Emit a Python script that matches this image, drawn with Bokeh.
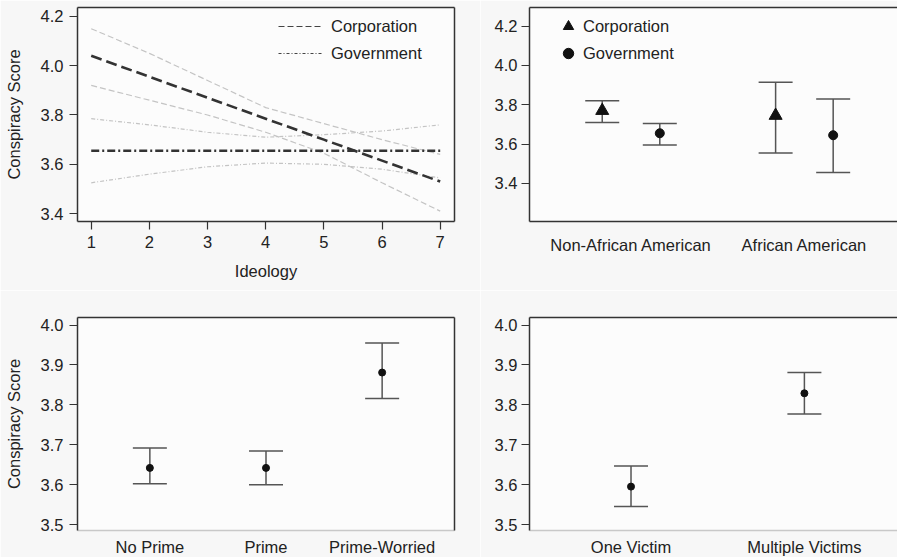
from bokeh.plotting import figure
from bokeh.models import (Range1d, FixedTicker, PrintfTickFormatter, LinearAxis,
                          Whisker, TeeHead, ColumnDataSource, Legend, LegendItem)
from bokeh.layouts import column, row
from bokeh.transform import dodge
from bokeh.embed import file_html
from bokeh.resources import INLINE

# ---------------- data ----------------
ideology = [1, 2, 3, 4, 5, 6, 7]
corp_mean = [4.04, 3.955, 3.87, 3.785, 3.70, 3.615, 3.53]
corp_upper = [4.15, 4.05, 3.94, 3.83, 3.765, 3.70, 3.64]
corp_lower = [3.92, 3.86, 3.80, 3.73, 3.645, 3.525, 3.41]
gov_mean = [3.655, 3.655, 3.655, 3.655, 3.655, 3.655, 3.655]
gov_upper = [3.785, 3.76, 3.73, 3.71, 3.72, 3.735, 3.76]
gov_lower = [3.525, 3.56, 3.59, 3.605, 3.60, 3.58, 3.545]
ideology_ticks = [1, 2, 3, 4, 5, 6, 7]
score_ticks_top = [3.4, 3.6, 3.8, 4.0, 4.2]

race_groups = ["Non-African American", "African American"]
race_corp = [3.77, 3.745]
race_corp_lo = [3.71, 3.555]
race_corp_hi = [3.82, 3.915]
race_gov = [3.655, 3.645]
race_gov_lo = [3.595, 3.455]
race_gov_hi = [3.705, 3.83]

prime_groups = ["No Prime", "Prime", "Prime-Worried"]
prime_est = [3.642, 3.642, 3.881]
prime_lo = [3.602, 3.600, 3.816]
prime_hi = [3.692, 3.684, 3.955]

victim_groups = ["One Victim", "Multiple Victims"]
victim_est = [3.595, 3.829]
victim_lo = [3.545, 3.777]
victim_hi = [3.647, 3.881]

score_ticks_bottom = [3.5, 3.6, 3.7, 3.8, 3.9, 4.0]

# ---------------- style ----------------
FONT = "Liberation Sans"
TXT = "#222222"
AX = "#333333"
ERR = "#555555"
BG_OUT = "#f7f7f7"
BG_IN = "#fcfcfc"
FS = "16.5px"
NAN = float("nan")


def base_fig(xr, yr, fw, fh, mbl, mbr, mbt, mbb):
    p = figure(frame_width=fw, frame_height=fh, x_range=xr, y_range=yr,
               output_backend="svg", toolbar_location=None,
               min_border_left=mbl, min_border_right=mbr,
               min_border_top=mbt, min_border_bottom=mbb,
               background_fill_color=BG_IN, border_fill_color=BG_OUT,
               outline_line_color=None)
    p.xgrid.visible = False
    p.ygrid.visible = False
    return p


def style_axis(ax, ticks, tick_out, standoff, line_color=AX):
    ax.ticker = FixedTicker(ticks=ticks)
    ax.major_tick_out = tick_out
    ax.major_tick_in = 0
    ax.minor_tick_out = 0
    ax.minor_tick_in = 0
    ax.major_tick_line_color = AX
    ax.major_tick_line_width = 1.2
    ax.axis_line_color = line_color
    ax.axis_line_width = 1.5
    ax.major_label_text_font = FONT
    ax.major_label_text_font_size = FS
    ax.major_label_text_color = TXT
    ax.major_label_standoff = standoff
    ax.axis_label_text_font = FONT
    ax.axis_label_text_font_size = FS
    ax.axis_label_text_font_style = "normal"
    ax.axis_label_text_color = TXT


def border(p, side, color=AX):
    ax = LinearAxis(ticker=FixedTicker(ticks=[]), axis_line_color=color,
                    axis_line_width=1.5, major_tick_out=0, major_tick_in=0,
                    minor_tick_out=0, minor_tick_in=0, major_label_standoff=0,
                    major_label_text_font_size="0px")
    p.add_layout(ax, side)


def add_errs(p, src, base, lo, hi):
    w = Whisker(source=src, base=base, lower=lo, upper=hi, dimension="height",
                line_color=ERR, line_width=1.5, level="underlay",
                upper_head=TeeHead(size=34, line_color=ERR, line_width=1.5),
                lower_head=TeeHead(size=34, line_color=ERR, line_width=1.5))
    p.add_layout(w)


# ---------------- top-left: ideology ----------------
tl = base_fig(Range1d(0.764, 7.246), Range1d(3.368, 4.236), 377, 214, 77, 26, 7, 69)
src_tl = ColumnDataSource(dict(x=ideology, cm=corp_mean, cu=corp_upper, cl=corp_lower,
                               gm=gov_mean, gu=gov_upper, gl=gov_lower))
BAND = "#c4c4c4"
tl.line("x", "cu", source=src_tl, line_color=BAND, line_width=1.2, line_dash="6 3")
tl.line("x", "cl", source=src_tl, line_color=BAND, line_width=1.2, line_dash="6 3")
tl.line("x", "gu", source=src_tl, line_color=BAND, line_width=1.2, line_dash="4 2 1 2")
tl.line("x", "gl", source=src_tl, line_color=BAND, line_width=1.2, line_dash="4 2 1 2")
tl.line("x", "gm", source=src_tl, line_color="#333333", line_width=2.6, line_dash="8 3 2 3")
tl.line("x", "cm", source=src_tl, line_color="#333333", line_width=2.6, line_dash="11 5")
# legend-only proxies (thin lines, as in the key)
corp_proxy = tl.line([NAN], [NAN], line_color="#444444", line_width=1.2, line_dash="6 3")
gov_proxy = tl.line([NAN], [NAN], line_color="#444444", line_width=1.2, line_dash="3 2 1 2")
leg_tl = Legend(items=[LegendItem(label="Corporation", renderers=[corp_proxy]),
                       LegendItem(label="Government", renderers=[gov_proxy])],
                location=(201, 155), glyph_width=44, glyph_height=26, label_height=26,
                spacing=1, padding=0, margin=0, label_standoff=9,
                border_line_color=None, background_fill_alpha=0,
                label_text_font=FONT, label_text_font_size=FS, label_text_color=TXT)
tl.add_layout(leg_tl)
style_axis(tl.xaxis[0], ideology_ticks, 8, 6)
tl.xaxis[0].axis_label = "Ideology"
tl.xaxis[0].axis_label_standoff = 11
style_axis(tl.yaxis[0], score_ticks_top, 8, 6)
tl.yaxis[0].formatter = PrintfTickFormatter(format="%.1f")
tl.yaxis[0].axis_label = "Conspiracy Score"
tl.yaxis[0].axis_label_standoff = 15
border(tl, "above")
border(tl, "right")

# ---------------- top-right: race ----------------
race_pos = list(range(1, len(race_groups) + 1))
tr = base_fig(Range1d(0.4145, 2.537), Range1d(3.206, 4.295), 368, 214, 49, 0, 7, 69)
src_tr = ColumnDataSource(dict(x=race_pos, c=race_corp, clo=race_corp_lo, chi=race_corp_hi,
                               g=race_gov, glo=race_gov_lo, ghi=race_gov_hi))
add_errs(tr, src_tr, dodge("x", -0.166), "clo", "chi")
add_errs(tr, src_tr, dodge("x", 0.166), "glo", "ghi")
rc = tr.scatter(x=dodge("x", -0.166), y="c", source=src_tr, marker="triangle",
                size=13, color="#111111")
rg = tr.scatter(x=dodge("x", 0.166), y="g", source=src_tr, marker="circle",
                size=9, color="#111111")
leg_tr = Legend(items=[LegendItem(label="Corporation", renderers=[rc]),
                       LegendItem(label="Government", renderers=[rg])],
                location=(26, 155), glyph_width=26, glyph_height=26, label_height=26,
                spacing=1, padding=0, margin=0, label_standoff=2,
                border_line_color=None, background_fill_alpha=0,
                label_text_font=FONT, label_text_font_size=FS, label_text_color=TXT)
tr.add_layout(leg_tr)
style_axis(tr.xaxis[0], race_pos, 0, 14)
tr.xaxis[0].major_label_overrides = {p: g for p, g in zip(race_pos, race_groups)}
style_axis(tr.yaxis[0], score_ticks_top, 8, 4)
tr.yaxis[0].formatter = PrintfTickFormatter(format="%.1f")
border(tr, "above")

# ---------------- bottom-left: prime ----------------
prime_pos = list(range(1, len(prime_groups) + 1))
bl = base_fig(Range1d(0.377, 3.623), Range1d(3.485, 4.019), 377, 213, 77, 26, 27, 27)
src_bl = ColumnDataSource(dict(x=prime_pos, e=prime_est, lo=prime_lo, hi=prime_hi))
add_errs(bl, src_bl, "x", "lo", "hi")
bl.scatter("x", "e", source=src_bl, marker="circle", size=7, color="#111111")
style_axis(bl.xaxis[0], prime_pos, 0, 7, line_color="#c8c8c8")
bl.xaxis[0].major_label_overrides = {p: g for p, g in zip(prime_pos, prime_groups)}
style_axis(bl.yaxis[0], score_ticks_bottom, 8, 6)
bl.yaxis[0].formatter = PrintfTickFormatter(format="%.1f")
bl.yaxis[0].axis_label = "Conspiracy Score"
bl.yaxis[0].axis_label_standoff = 15
border(bl, "above")
border(bl, "right")

# ---------------- bottom-right: victims ----------------
victim_pos = list(range(1, len(victim_groups) + 1))
br = base_fig(Range1d(0.4145, 2.537), Range1d(3.485, 4.019), 368, 213, 49, 0, 27, 27)
src_br = ColumnDataSource(dict(x=victim_pos, e=victim_est, lo=victim_lo, hi=victim_hi))
add_errs(br, src_br, "x", "lo", "hi")
br.scatter("x", "e", source=src_br, marker="circle", size=7, color="#111111")
style_axis(br.xaxis[0], victim_pos, 0, 7, line_color="#c8c8c8")
br.xaxis[0].major_label_overrides = {p: g for p, g in zip(victim_pos, victim_groups)}
style_axis(br.yaxis[0], score_ticks_bottom, 8, 4)
br.yaxis[0].formatter = PrintfTickFormatter(format="%.1f")
border(br, "above")

layout = column(row(tl, tr), row(bl, br))
open("out.html", "w").write(file_html(layout, INLINE))
